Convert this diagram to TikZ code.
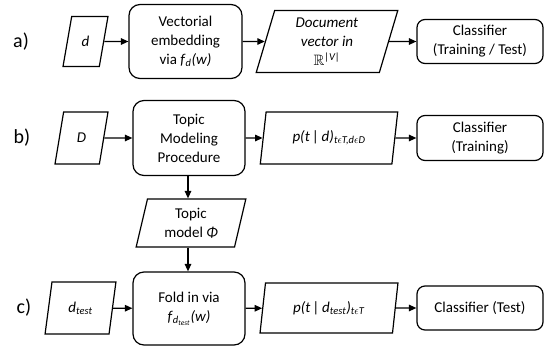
\documentclass[tikz,border=0pt]{standalone}
\usepackage{fontspec}
\setmainfont{Carlito}
\usepackage{amssymb}
\usetikzlibrary{shapes.geometric,arrows.meta}
\begin{document}
\begin{tikzpicture}[x=1pt,y=-1pt,
  txt/.style={align=center,inner sep=0pt,font=\fontsize{15}{19}\selectfont},
  box/.style={txt,draw,line width=1.2pt,rounded corners=11pt},
  cbox/.style={txt,draw,line width=1.2pt,rounded corners=8pt,minimum width=126pt,minimum height=44pt},
  para/.style={txt,draw,line width=1.2pt,trapezium,trapezium left angle=77,trapezium right angle=103,trapezium stretches=true},
  arr/.style={line width=1.3pt,-{Triangle[length=7.5pt,width=6.5pt]}},
  lab/.style={font=\fontsize{20}{24}\selectfont}]
\useasboundingbox (0,0) rectangle (544,346);
% labels
\node[lab] (la) at (21,41.5) {a)};
\node[lab] (lb) at (22,138) {b)};
\node[lab] (lc) at (24,308) {c)};
% row a
\node[para,minimum width=45pt,minimum height=50pt] (d) at (85.5,41.5) {\textit{d}};
\node[box,minimum width=113pt,minimum height=74pt] (emb) at (185.5,41.5) {Vectorial\\embedding\\via \textit{f}\textsubscript{\textit{d}}\textit{(w)}};
\node[para,minimum width=142pt,minimum height=62pt] (doc) at (327,41.5) {\textit{Document}\\\textit{vector in}\\{$\mathbb{R}$\textsuperscript{\textit{|V|}}}};
\node[cbox] (c1) at (480,41.5) {Classifier\\(Training / Test)};
\draw[arr] (d) -- (emb);
\draw[arr] (emb) -- (doc);
\draw[arr] (doc) -- (c1);
% row b
\node[para,minimum width=53pt,minimum height=52pt] (D) at (81.5,138) {\textit{D}};
\node[box,minimum width=112pt,minimum height=75pt] (tmp) at (189,138) {Topic\\Modeling\\Procedure};
\node[para,minimum width=138pt,minimum height=52pt] (ptd) at (329,138) {\textit{p(t}\,\textit{|}\,\textit{d)}\textsubscript{\textit{t$\epsilon$T,d$\epsilon$D}}};
\node[cbox,minimum height=45pt] (c2) at (480,138) {Classifier\\(Training)};
\node[para,minimum width=110pt,minimum height=48pt] (tm) at (191,223) {Topic\\model \textit{Φ}};
\draw[arr] (D) -- (tmp);
\draw[arr] (tmp) -- (ptd);
\draw[arr] (ptd) -- (c2);
\draw[arr] (tmp.south -| 188,0) -- (tm.north -| 188,0);
% row c
\node[para,minimum width=71pt,minimum height=52pt] (dt) at (80.5,308) {\textit{d}\textsubscript{\textit{test}}};
\node[box,minimum width=112pt,minimum height=73pt] (fold) at (189,308.5) {Fold in via\\\textit{f}\textsubscript{\textit{d}\textsubscript{\textit{test}}}\textit{(w)}};
\node[para,minimum width=138pt,minimum height=50pt] (ptdt) at (329,308) {\textit{p(t}\,\textit{|}\,\textit{d}\textsubscript{\textit{test}}\textit{)}\textsubscript{\textit{t$\epsilon$T}}};
\node[cbox] (c3) at (480,308) {Classifier (Test)};
\draw[arr] (tm.south -| 188,0) -- (fold.north -| 188,0);
\draw[arr] (dt) -- (fold);
\draw[arr] (fold) -- (ptdt);
\draw[arr] (ptdt) -- (c3);
\end{tikzpicture}
\end{document}
